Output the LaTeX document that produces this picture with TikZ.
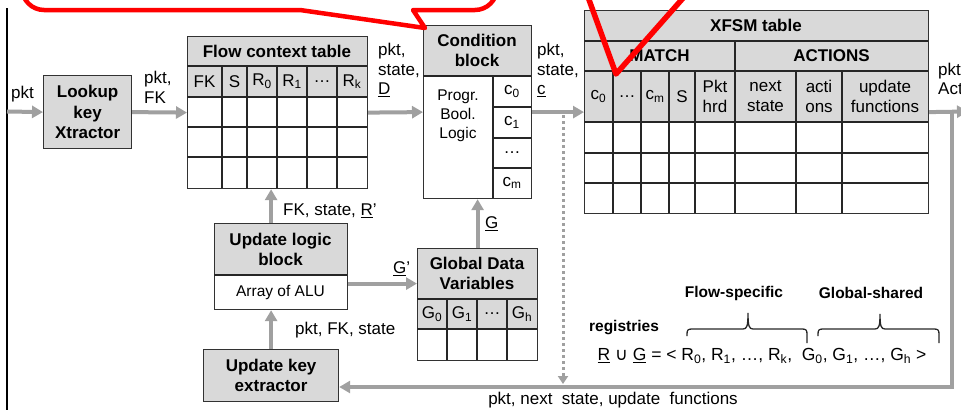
\documentclass[tikz,border=0pt]{standalone}
\usepackage{fontspec}
\setmainfont{Liberation Sans}
\newfontfamily\symfont{DejaVu Sans}
\usetikzlibrary{arrows.meta}
\newcommand\fsz[2]{\fontsize{#1}{#2}\selectfont}
\definecolor{hdrgray}{RGB}{217,217,217}
\definecolor{arrgray}{RGB}{160,160,160}
\definecolor{boxline}{RGB}{50,50,50}
\definecolor{calloutred}{RGB}{255,0,0}

\begin{document}
\begin{tikzpicture}[x=1pt,y=-1pt,
  box/.style={draw=boxline, line width=1.2pt, inner sep=0pt, anchor=north west},
  grid/.style={draw=black!85, line width=1.1pt},
  flow/.style={draw=arrgray, line width=4pt, -{Triangle[length=11pt,width=12pt]}},
  feedback/.style={draw=arrgray, line width=4pt, line join=miter, -{Triangle[length=11pt,width=12pt]}},
  dots/.style={draw=arrgray, line width=3pt, dash pattern=on 3pt off 3pt, -{Triangle[length=8pt,width=10pt]}},
  lbl/.style={font=\fsz{17}{19.5}, align=left, inner sep=0pt, anchor=west},
  ttl/.style={font=\fsz{17}{20}\bfseries, align=center, inner sep=0pt},
  cell/.style={font=\fsz{17}{20}, align=center, inner sep=0pt},
  body/.style={font=\fsz{15.5}{19}, align=center, inner sep=0pt},
  note/.style={font=\fsz{15.5}{19}\bfseries, inner sep=0pt},
  brc/.style={draw=black!85, line width=1.3pt},
  callout/.style={draw=calloutred, line width=4.5pt, line join=round},
]
\clip (0,0) rectangle (961,410);

% frame edge on the left
\draw[line width=2.5pt] (7,8) -- (7,410);

% ---------- Lookup key extractor ----------
\node[box, fill=hdrgray, minimum width=88pt, minimum height=73pt,
      font=\fsz{17}{20.5}\bfseries, align=center] (lkx) at (43,75) {Lookup\\key\\Xtractor};

% ---------- Flow context table ----------
\fill[hdrgray] (187,36) rectangle (367,97);
\node[box, minimum width=180pt, minimum height=152pt] (fct) at (187,36) {};
\foreach \yy in {66,97,127,157} \draw[grid] (187,\yy) -- (367,\yy);
\foreach \xx in {222,247,277,307,337} \draw[grid] (\xx,66) -- (\xx,188);
\node[ttl] (fct-t) at (277,51) {Flow context table};
\node[cell] (fct-fk) at (204.5,81.5) {FK};
\node[cell] (fct-s)  at (234.5,81.5) {S};
\node[cell] (fct-r0) at (262,81.5) {R\textsubscript{0}};
\node[cell] (fct-r1) at (292,81.5) {R\textsubscript{1}};
\node[cell] (fct-rd) at (322,81.5) {…};
\node[cell] (fct-rk) at (352,81.5) {R\textsubscript{k}};

% ---------- Condition block ----------
\fill[hdrgray] (423,25) rectangle (531,76);
\node[box, minimum width=108pt, minimum height=173pt] (cond) at (423,25) {};
\draw[grid] (423,76) -- (531,76);
\draw[grid] (493,76) -- (493,198);
\foreach \yy in {107,138,168} \draw[grid] (493,\yy) -- (531,\yy);
\node[ttl] (cond-t) at (477,50.5) {Condition\\block};
\node[body] (cond-b) at (458,116) {Progr.\\Bool.\\Logic};
\node[cell] (cond-c0) at (512,91.5) {c\textsubscript{0}};
\node[cell] (cond-c1) at (512,122.5) {c\textsubscript{1}};
\node[cell] (cond-cd) at (512,153) {…};
\node[cell] (cond-cm) at (512,183) {c\textsubscript{m}};

% ---------- XFSM table ----------
\fill[hdrgray] (584,10) rectangle (928,122);
\node[box, minimum width=344pt, minimum height=203pt] (xfsm) at (584,10) {};
\foreach \yy in {41,71,122,153,183} \draw[grid] (584,\yy) -- (928,\yy);
\draw[grid] (735,41) -- (735,213);
\foreach \xx in {613,641,669,695,796,842} \draw[grid] (\xx,71) -- (\xx,213);
\node[ttl] (xfsm-t) at (756,25.5) {XFSM table};
\node[ttl] (xfsm-m) at (659.5,56) {MATCH};
\node[ttl] (xfsm-a) at (831.5,56) {ACTIONS};
\node[cell] (xfsm-c0) at (598.5,96.5) {c\textsubscript{0}};
\node[cell] (xfsm-cd) at (627,96.5) {…};
\node[cell] (xfsm-cm) at (655,96.5) {c\textsubscript{m}};
\node[cell] (xfsm-s)  at (682,96.5) {S};
\node[cell] (xfsm-ph) at (715,96.5) {Pkt\\hrd};
\node[cell] (xfsm-ns) at (765.5,96.5) {next\\state};
\node[cell] (xfsm-ac) at (819,96.5) {acti\\ons};
\node[cell] (xfsm-uf) at (885,96.5) {update\\functions};

% ---------- Update logic block ----------
\fill[hdrgray] (214,223) rectangle (347,275);
\node[box, minimum width=133pt, minimum height=86pt] (ulb) at (214,223) {};
\draw[grid] (214,275) -- (347,275);
\node[ttl] (ulb-t) at (280.5,249) {Update logic\\block};
\node[body] (ulb-b) at (280.5,292) {Array of ALU};

% ---------- Global data variables ----------
\fill[hdrgray] (417,248) rectangle (537,329);
\node[box, minimum width=120pt, minimum height=112pt] (gdv) at (417,248) {};
\foreach \yy in {299,329} \draw[grid] (417,\yy) -- (537,\yy);
\foreach \xx in {447,477,507} \draw[grid] (\xx,299) -- (\xx,360);
\node[ttl] (gdv-t) at (477,273.5) {Global Data\\Variables};
\node[cell] (gdv-g0) at (432,314) {G\textsubscript{0}};
\node[cell] (gdv-g1) at (462,314) {G\textsubscript{1}};
\node[cell] (gdv-gd) at (492,314) {…};
\node[cell] (gdv-gh) at (522,314) {G\textsubscript{h}};

% ---------- Update key extractor ----------
\node[box, fill=hdrgray, minimum width=135pt, minimum height=52pt,
      font=\fsz{17}{20}\bfseries, align=center] (ukx) at (203,349) {Update key\\extractor};

% ---------- connectors ----------
\coordinate (inpt) at (7,111.5);
\coordinate (outend) at (968,111.5);
\coordinate (fbcorner) at (952,387);
\coordinate (dtop) at (563,115);

\draw[flow] (inpt) -- (lkx.west);
\draw[flow] (lkx.east) -- (fct.west);
\draw[flow] (fct.east) -- (cond.west);
\draw[flow] (cond.east) -- (xfsm.west);
\draw[flow] (xfsm.east) -- (outend);
\draw[feedback] (xfsm.east -| fbcorner) -- (fbcorner) -- (fbcorner -| ukx.east);
\draw[dots, shorten >=3pt] (dtop) -- (dtop |- fbcorner);
\draw[flow] (ukx.north) -- (ukx.north |- ulb.south);
\draw[flow] (ukx.north |- ulb.north) -- (ukx.north |- fct.south);
\draw[flow] ([yshift=-17pt]ulb.east) -- ([yshift=-17pt]ulb.east -| gdv.west);
\draw[flow] (gdv.north) -- (gdv.north |- cond.south);

% ---------- connector labels ----------
\node[lbl] (l-in)   at (11,94) {pkt};
\node[lbl] (l-fk)   at (144,87.5) {pkt,\\FK};
\node[lbl] (l-d)    at (378,70) {pkt,\\state,\\\underline{D}};
\node[lbl] (l-c)    at (537,70) {pkt,\\state,\\\underline{c}};
\node[lbl] (l-out)  at (938,79) {pkt,\\Actions};
\node[lbl] (l-r)    at (283,211) {FK, state, \underline{R}’};
\node[lbl] (l-ukx)  at (295,330) {pkt, FK, state};
\node[lbl] (l-gp)   at (393,269) {\underline{G}’};
\node[lbl] (l-g)    at (485,224) {\underline{G}};
\node[lbl, anchor=center] (l-fb) at (613,400) {pkt, next\ \ state, update\ \ functions};

% ---------- registries ----------
\node[note] (reg) at (624,328) {registries};
\node[note] (flowspec) at (734,293) {Flow-specific};
\node[note] (globshared) at (871,293) {Global-shared};
% curly braces over the two register groups
\draw[brc] (687,336) -- (687,334) .. controls (687,330) and (688,329) .. (692,329)
  -- (743,329) .. controls (747,329) and (748,326) .. (748,313)
  .. controls (748,326) and (749,329) .. (753,329)
  -- (802,329) .. controls (806,329) and (807,330) .. (807,334) -- (807,343);
\draw[brc] (818,336) -- (818,334) .. controls (818,330) and (819,329) .. (823,329)
  -- (875,329) .. controls (879,329) and (880,326) .. (880,314)
  .. controls (880,326) and (881,329) .. (885,329)
  -- (934,329) .. controls (938,329) and (939,330) .. (939,334) -- (939,343);
\node[lbl, anchor=center, font=\fsz{17.5}{20}] (regset) at (762,356)
  {\underline{R} {\symfont ∪} \underline{G} = < R\textsubscript{0}, R\textsubscript{1}, …, R\textsubscript{k},\ \ G\textsubscript{0}, G\textsubscript{1}, …, G\textsubscript{h} >};

% ---------- red callout outlines ----------
\draw[callout] (22,-40) -- (22,-12) .. controls (22,0.1) and (31.9,10) .. (44,10)
  -- (300,10) -- (425,28) -- (413,10) -- (475,10)
  .. controls (487.1,10) and (497,0.1) .. (497,-12) -- (497,-40);
\draw[callout, line width=5.5pt] (588,-3) -- (616,74) -- (684,-3);
\end{tikzpicture}
\end{document}
